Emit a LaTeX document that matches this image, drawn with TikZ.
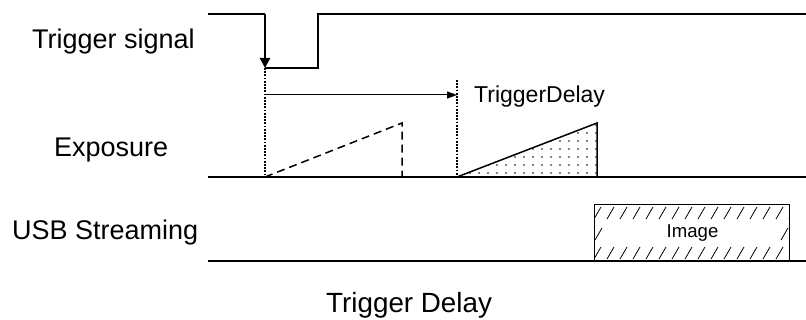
\documentclass[tikz,border=0pt]{standalone}
\usepackage{fontspec}
\setmainfont{Liberation Sans}
\usetikzlibrary{arrows.meta}
\begin{document}
\begin{tikzpicture}[x=1pt,y=-1pt,
  lbl/.style={anchor=base west,inner sep=0pt,font=\fontsize{27}{31}\selectfont},
  sig/.style={line width=2.4pt},
  baseline/.style={line width=2pt},
  vdot/.style={line width=1.1pt,dash pattern=on 1.8pt off 1.4pt},
  ramp/.style={line width=1.5pt},
  hatchline/.style={line width=0.8pt}]
\useasboundingbox (0,0) rectangle (806,320);
% coordinates
\coordinate (t0) at (208,14);
\coordinate (tfall) at (265,14);
\coordinate (tlow) at (265,68);
\coordinate (trise) at (318,68);
\coordinate (thigh) at (318,14);
\coordinate (tend) at (806,14);
\coordinate (e0) at (208,177);
\coordinate (eend) at (806,177);
\coordinate (u0) at (208,261);
\coordinate (uend) at (806,261);
\coordinate (d1) at (265,177);
\coordinate (d1top) at (402,123);
\coordinate (d1bot) at (402,177);
\coordinate (s1) at (457,177);
\coordinate (s1top) at (597,123);
\coordinate (s1bot) at (597,177);
\coordinate (a0) at (265,95);
\coordinate (a1) at (457,95);
\coordinate (v2top) at (457,80);
% trigger signal
\draw[sig] (t0) -- (tfall);
\draw[sig,-{Triangle[length=10pt,width=10pt]}] (tfall) -- (tlow);
\draw[sig] (tlow) -- (trise) -- (thigh) -- (tend);
% dotted verticals
\draw[vdot] (tlow) -- (d1);
\draw[vdot] (v2top) -- (s1);
% delay arrow
\draw[line width=1pt,-{Triangle[length=10pt,width=7pt]}] (a0) -- (a1);
% exposure dots
\begin{scope}
  \clip (s1) -- (s1top) -- (s1bot) -- cycle;
  \foreach \i in {0,...,17} {
    \foreach \j in {0,...,7} {
      \fill[black!65] (461+\i*9, 173-\j*8) circle (1.1);
    }
  }
\end{scope}
% baselines
\draw[baseline] (e0) -- (eend);
\draw[baseline] (u0) -- (uend);
% ramps
\draw[ramp,dash pattern=on 8pt off 5pt] (d1) -- (d1top) -- (d1bot);
\draw[ramp] (s1) -- (s1top) -- (s1bot);
% image box
\begin{scope}
  \clip (594,205) rectangle (789,261);
  \foreach \x in {594,607,...,790} {
    \draw[hatchline] (\x,219) -- (\x+7,207);
    \draw[hatchline] (\x,259) -- (\x+7,247);
  }
  \draw[hatchline] (595,240) -- (602,228);
  \draw[hatchline] (781,240) -- (788,228);
\end{scope}
\draw[line width=1pt] (594,261) -- (594,205) -- (789,205) -- (789,261);
% labels
\node[lbl] (trig) at (32,48.5) {Trigger signal};
\node[lbl] (exp) at (54,157) {Exposure};
\node[lbl] (usb) at (12,240) {USB Streaming};
\node[anchor=base west,inner sep=0pt,font=\fontsize{23}{27}\selectfont] (td) at (474,103) {TriggerDelay};
\node[anchor=base,inner sep=0pt,font=\fontsize{18.6}{22}\selectfont] (img) at (692.5,238) {Image};
\node[anchor=base west,inner sep=0pt,font=\fontsize{27.8}{32}\selectfont] (title) at (326,313) {Trigger Delay};
\end{tikzpicture}
\end{document}
